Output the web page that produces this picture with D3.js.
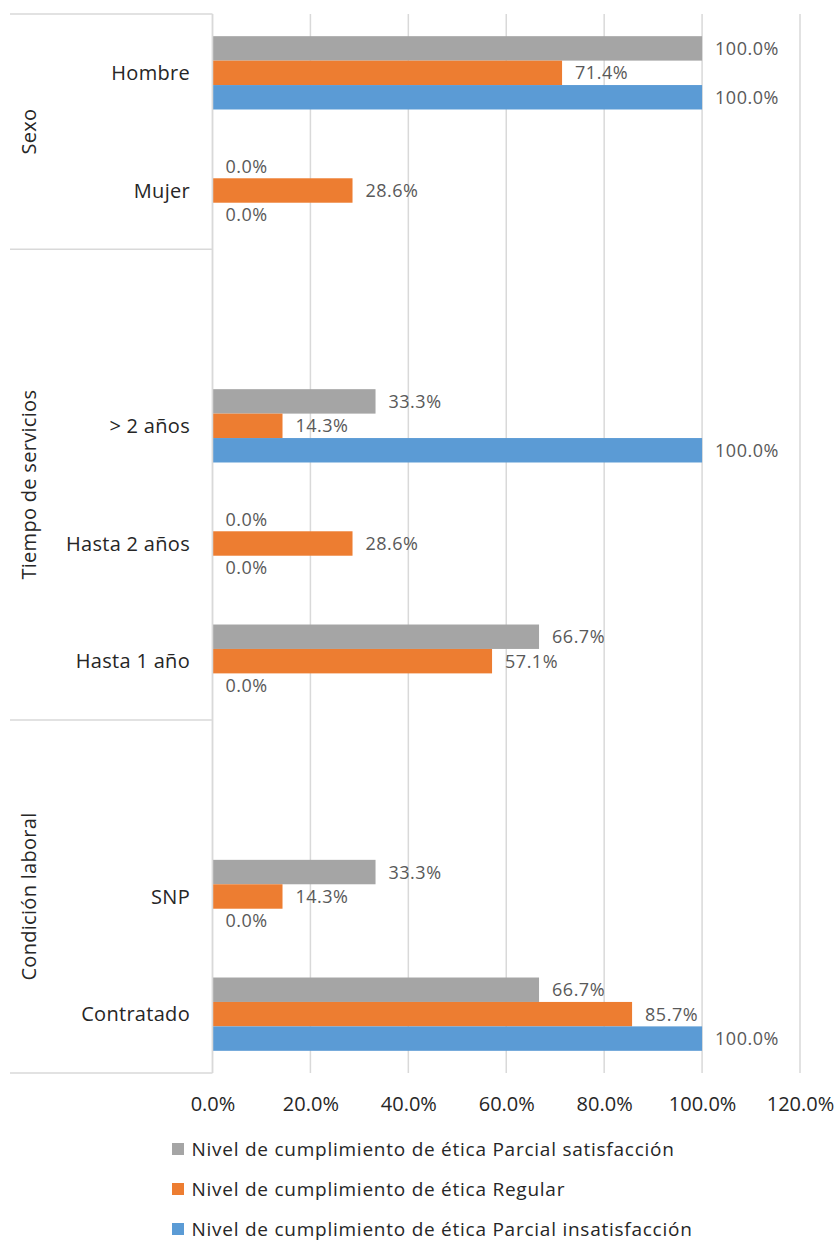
<!DOCTYPE html>
<html>
<head>
<meta charset="utf-8">
<script src="https://cdn.jsdelivr.net/npm/d3@7"></script>
<style>
  html, body { margin: 0; padding: 0; background: #ffffff; }
  svg { display: block; }
  text { font-family: "Open Sans", "Noto Sans", sans-serif; }
</style>
</head>
<body>
<svg id="chart" width="838" height="1242"></svg>
<script>
// Category slots from top to bottom ("" = empty spacer slot inside a group)
const categories = ["Hombre", "Mujer", "", "> 2 años", "Hasta 2 años", "Hasta 1 año", "", "SNP", "Contratado"];
const groupLabels = ["Sexo", "Tiempo de servicios", "Condición laboral"];
const groupSizes = [2, 4, 3];

const seriesNames = [
  "Nivel de cumplimiento de ética Parcial satisfacción",
  "Nivel de cumplimiento de ética Regular",
  "Nivel de cumplimiento de ética Parcial insatisfacción"
];
const seriesColors = ["#a5a5a5", "#ed7d31", "#5b9bd5"];

// Percent values per category slot (null for spacer slots)
const parcialSatisfaccion   = [100.0, 0.0, null, 33.3, 0.0, 66.7, null, 33.3, 66.7];
const regular               = [71.4, 28.6, null, 14.3, 28.6, 57.1, null, 14.3, 85.7];
const parcialInsatisfaccion = [100.0, 0.0, null, 100.0, 0.0, 0.0, null, 0.0, 100.0];

const seriesValues = [parcialSatisfaccion, regular, parcialInsatisfaccion];
const tickValues = [0, 20, 40, 60, 80, 100, 120];

const svg = d3.select("#chart");

const plot = { left: 212.5, right: 800, top: 14, bottom: 1073 };
const groupColLeft = 10;

const x = d3.scaleLinear().domain([0, 120]).range([plot.left, plot.right]);
const slotIdx = categories.map((_, i) => i);
const y = d3.scaleBand().domain(slotIdx).range([plot.top, plot.bottom]).paddingInner(0).paddingOuter(0);
const inner = d3.scaleBand().domain([0, 1, 2])
  .range([0, y.bandwidth() * 0.623]);
const innerOffset = (y.bandwidth() - inner.range()[1]) / 2;

const grid = "#d9d9d9";

// Vertical gridlines
svg.append("g").selectAll("line").data(tickValues).join("line")
  .attr("x1", d => x(d)).attr("x2", d => x(d))
  .attr("y1", plot.top).attr("y2", plot.bottom)
  .attr("stroke", grid).attr("stroke-width", 1.5);

// Group separators in the category label column
const bounds = [0];
groupSizes.forEach(s => bounds.push(bounds[bounds.length - 1] + s));
const boundY = b => b === categories.length ? plot.bottom : y(b);
svg.append("g").selectAll("line").data(bounds).join("line")
  .attr("x1", groupColLeft).attr("x2", plot.left)
  .attr("y1", boundY).attr("y2", boundY)
  .attr("stroke", grid).attr("stroke-width", 1.5);

// Bars
const rows = [];
seriesValues.forEach((vals, s) => vals.forEach((v, i) => {
  if (v !== null) rows.push({ s, i, v });
}));

svg.append("g").selectAll("rect").data(rows).join("rect")
  .attr("x", x(0))
  .attr("y", d => y(d.i) + innerOffset + inner(d.s))
  .attr("width", d => x(d.v) - x(0))
  .attr("height", inner.bandwidth())
  .attr("fill", d => seriesColors[d.s]);

// Value labels
svg.append("g").selectAll("text").data(rows).join("text")
  .attr("x", d => x(d.v) + 13)
  .attr("y", d => y(d.i) + innerOffset + inner(d.s) + inner.bandwidth() / 2)
  .attr("dy", "0.36em")
  .attr("font-size", 18)
  .attr("letter-spacing", 0.5)
  .attr("fill", "#595959")
  .text(d => d.v.toFixed(1) + "%");

// Axis line at zero
svg.append("line")
  .attr("x1", plot.left).attr("x2", plot.left)
  .attr("y1", plot.top).attr("y2", plot.bottom)
  .attr("stroke", grid).attr("stroke-width", 1.5);

// Category labels
svg.append("g").selectAll("text").data(slotIdx.filter(i => categories[i] !== "")).join("text")
  .attr("x", 190)
  .attr("y", i => y(i) + y.bandwidth() / 2)
  .attr("dy", "0.36em")
  .attr("text-anchor", "end")
  .attr("font-size", 20)
  .attr("letter-spacing", 0.3)
  .attr("fill", "#262626")
  .text(i => categories[i]);

// Rotated group labels
svg.append("g").selectAll("text").data(groupLabels).join("text")
  .attr("transform", (d, g) => `translate(36,${(boundY(bounds[g]) + boundY(bounds[g + 1])) / 2}) rotate(-90)`)
  .attr("text-anchor", "middle")
  .attr("font-size", 20)
  .attr("letter-spacing", 0.3)
  .attr("fill", "#262626")
  .text(d => d);

// X axis tick labels
const xAxis = d3.axisBottom(x).tickValues(tickValues).tickSize(0).tickPadding(0)
  .tickFormat(d => d.toFixed(1) + "%");
const axisG = svg.append("g").attr("transform", `translate(0,${plot.bottom})`).call(xAxis);
axisG.select(".domain").remove();
axisG.selectAll("text")
  .attr("y", 38)
  .attr("dy", 0)
  .attr("font-size", 20)
  .attr("font-family", "\"Open Sans\", sans-serif")
  .attr("fill", "#262626");

// Legend
const legend = svg.append("g").selectAll("g").data(seriesNames).join("g")
  .attr("transform", (d, i) => `translate(172,${1149 + i * 40})`);
legend.append("rect")
  .attr("x", 0).attr("y", -6).attr("width", 12).attr("height", 12)
  .attr("fill", (d, i) => seriesColors[i]);
legend.append("text")
  .attr("x", 19.5).attr("y", 0).attr("dy", "0.36em")
  .attr("font-size", 19)
  .attr("letter-spacing", 0.75)
  .attr("fill", "#262626")
  .text(d => d);
</script>
</body>
</html>
